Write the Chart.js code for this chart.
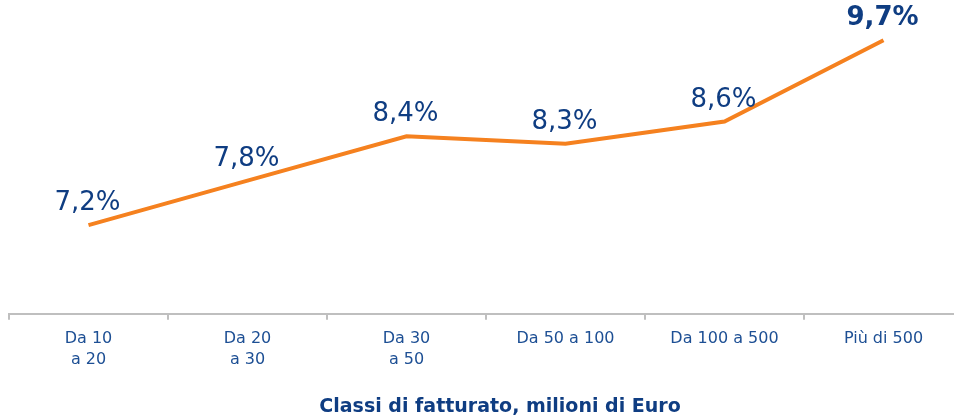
<!DOCTYPE html>
<html>
<head>
<meta charset="utf-8">
<script src="https://cdn.jsdelivr.net/npm/chart.js@4/dist/chart.umd.min.js"></script>
<style>
    html, body { margin: 0; padding: 0; background: #fff; overflow: hidden; }
    #wrap { width: 963px; height: 420px; }
</style>
</head>
<body>
<div id="wrap"><canvas id="fatturatoChart" width="963" height="420"></canvas></div>
<script>
// Data
const classLabels = [['Da 10', 'a 20'], ['Da 20', 'a 30'], ['Da 30', 'a 50'], 'Da 50 a 100', 'Da 100 a 500', 'Più di 500'];
const marginValues = [7.2, 7.8, 8.4, 8.3, 8.6, 9.7];
const axisTitle = 'Classi di fatturato, milioni di Euro';

const orange = '#F5811F';
const navy = '#0F3D82';
const tickBlue = '#1D4F94';

// draws "7,2%" style labels above each point, last one bold
const valueLabels = {
    id: 'valueLabels',
    afterDatasetsDraw(chart) {
        const ctx = chart.ctx;
        const meta = chart.getDatasetMeta(0);
        ctx.save();
        ctx.fillStyle = navy;
        ctx.textAlign = 'center';
        ctx.textBaseline = 'alphabetic';
        meta.data.forEach((pt, i) => {
            const last = i === marginValues.length - 1;
            ctx.font = (last ? 'bold ' : '') + '26px "DejaVu Sans"';
            const txt = marginValues[i].toFixed(1).replace('.', ',') + '%';
            ctx.fillText(txt, pt.x - 1, pt.y - 15);
        });
        ctx.restore();
    }
};

// axis caption under the tick labels
const bottomCaption = {
    id: 'bottomCaption',
    afterDraw(chart) {
        const ctx = chart.ctx;
        const area = chart.chartArea;
        ctx.save();
        ctx.fillStyle = navy;
        ctx.font = 'bold 19px "DejaVu Sans"';
        ctx.textAlign = 'center';
        ctx.textBaseline = 'middle';
        ctx.fillText(axisTitle, (area.left + area.right) / 2 + 14, chart.height - 13);
        ctx.restore();
    }
};

const ctx = document.getElementById('fatturatoChart').getContext('2d');
new Chart(ctx, {
    type: 'line',
    data: {
        labels: classLabels,
        datasets: [{
            data: marginValues,
            borderColor: orange,
            borderWidth: 4,
            pointRadius: 0,
            tension: 0,
            fill: false
        }]
    },
    options: {
        responsive: false,
        animation: false,
        layout: {
            padding: { top: 18, left: 9, right: 0, bottom: 41 }
        },
        scales: {
            x: {
                offset: true,
                grid: {
                    offset: true,
                    drawOnChartArea: false,
                    drawTicks: true,
                    tickLength: 6,
                    color: '#BFBFBF',
                    lineWidth: 2
                },
                border: { display: true, color: '#BFBFBF', width: 2 },
                ticks: {
                    color: tickBlue,
                    padding: 8,
                    maxRotation: 0,
                    autoSkip: false,
                    font: { family: '"DejaVu Sans"', size: 16, lineHeight: 1.35 }
                }
            },
            y: {
                display: false,
                min: 6,
                max: 10
            }
        },
        plugins: {
            legend: { display: false },
            tooltip: { enabled: false }
        }
    },
    plugins: [valueLabels, bottomCaption]
});
</script>
</body>
</html>
